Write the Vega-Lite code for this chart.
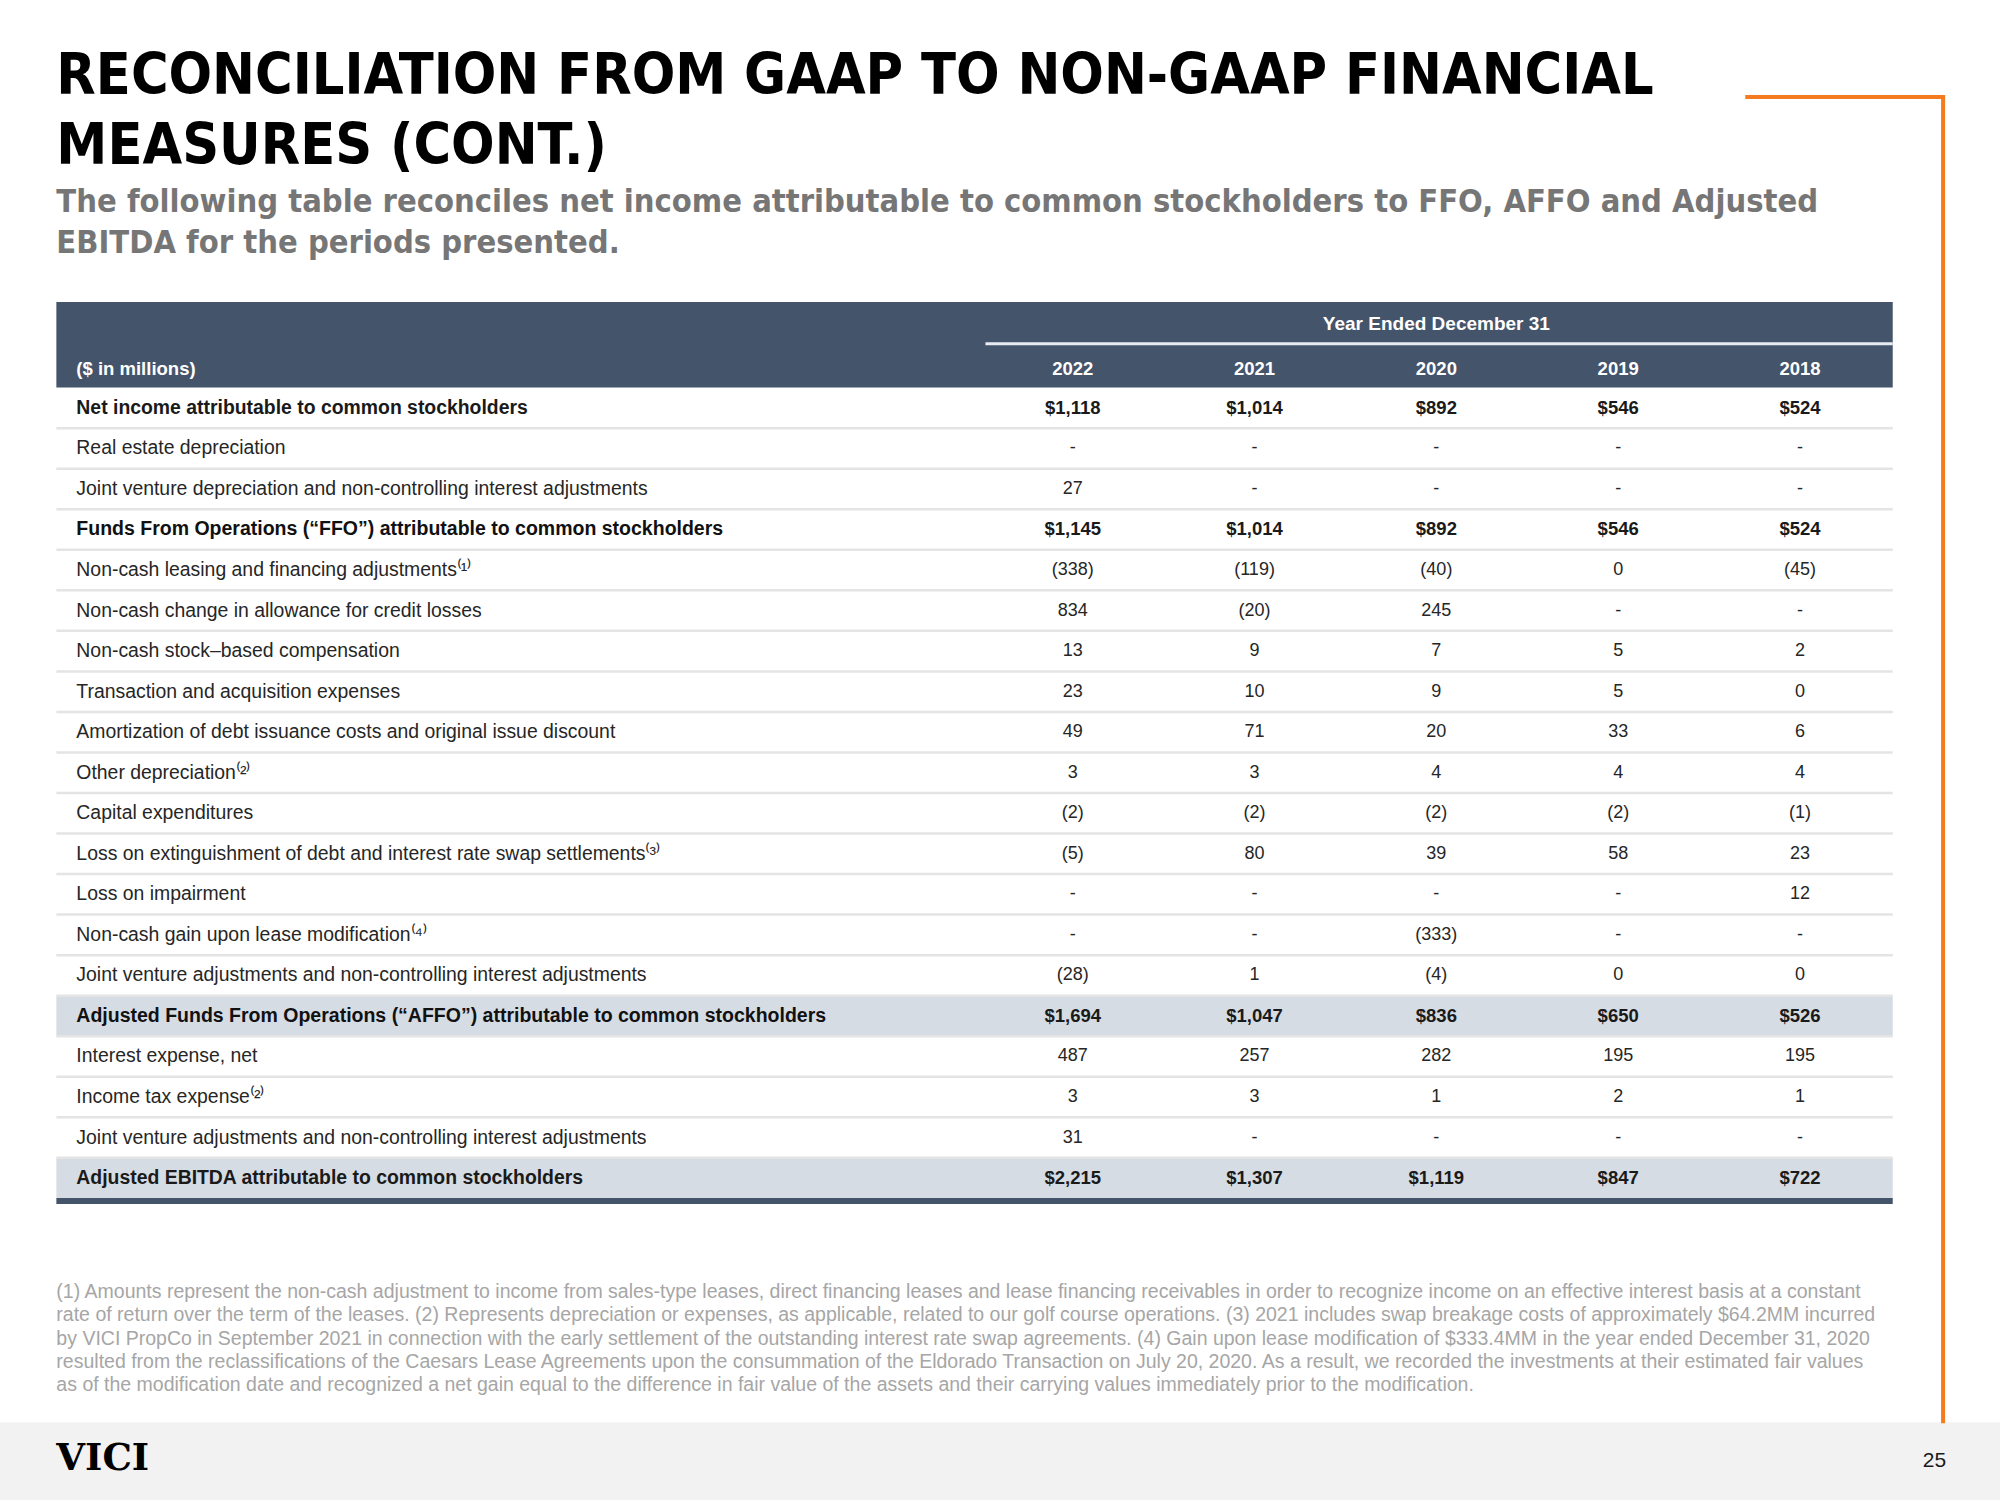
{
  "$schema": "https://vega.github.io/schema/vega-lite/v6.json",
  "width": 2000,
  "height": 1500,
  "autosize": {"type": "fit", "contains": "padding"},
  "padding": 0,
  "background": "white",
  "config": {"view": {"stroke": null}},
  "datasets": {
    "rows": [
      {"row": 0, "label": "Net income attributable to common stockholders", "kind": "total"},
      {"row": 1, "label": "Real estate depreciation", "kind": "item"},
      {"row": 2, "label": "Joint venture depreciation and non-controlling interest adjustments", "kind": "item"},
      {"row": 3, "label": "Funds From Operations (“FFO”) attributable to common stockholders", "kind": "subtotal"},
      {"row": 4, "label": "Non-cash leasing and financing adjustments⁽¹⁾", "kind": "item"},
      {"row": 5, "label": "Non-cash change in allowance for credit losses", "kind": "item"},
      {"row": 6, "label": "Non-cash stock–based compensation", "kind": "item"},
      {"row": 7, "label": "Transaction and acquisition expenses", "kind": "item"},
      {"row": 8, "label": "Amortization of debt issuance costs and original issue discount", "kind": "item"},
      {"row": 9, "label": "Other depreciation⁽²⁾", "kind": "item"},
      {"row": 10, "label": "Capital expenditures", "kind": "item"},
      {"row": 11, "label": "Loss on extinguishment of debt and interest rate swap settlements⁽³⁾", "kind": "item"},
      {"row": 12, "label": "Loss on impairment", "kind": "item"},
      {"row": 13, "label": "Non-cash gain upon lease modification⁽⁴⁾", "kind": "item"},
      {"row": 14, "label": "Joint venture adjustments and non-controlling interest adjustments", "kind": "item"},
      {"row": 15, "label": "Adjusted Funds From Operations (“AFFO”) attributable to common stockholders", "kind": "subtotal"},
      {"row": 16, "label": "Interest expense, net", "kind": "item"},
      {"row": 17, "label": "Income tax expense⁽²⁾", "kind": "item"},
      {"row": 18, "label": "Joint venture adjustments and non-controlling interest adjustments", "kind": "item"},
      {"row": 19, "label": "Adjusted EBITDA attributable to common stockholders", "kind": "total"}
    ],
    "cells": [
      {"row": 0, "year": 2022, "value": 1118}, {"row": 0, "year": 2021, "value": 1014}, {"row": 0, "year": 2020, "value": 892}, {"row": 0, "year": 2019, "value": 546}, {"row": 0, "year": 2018, "value": 524},
      {"row": 1, "year": 2022, "value": null}, {"row": 1, "year": 2021, "value": null}, {"row": 1, "year": 2020, "value": null}, {"row": 1, "year": 2019, "value": null}, {"row": 1, "year": 2018, "value": null},
      {"row": 2, "year": 2022, "value": 27}, {"row": 2, "year": 2021, "value": null}, {"row": 2, "year": 2020, "value": null}, {"row": 2, "year": 2019, "value": null}, {"row": 2, "year": 2018, "value": null},
      {"row": 3, "year": 2022, "value": 1145}, {"row": 3, "year": 2021, "value": 1014}, {"row": 3, "year": 2020, "value": 892}, {"row": 3, "year": 2019, "value": 546}, {"row": 3, "year": 2018, "value": 524},
      {"row": 4, "year": 2022, "value": -338}, {"row": 4, "year": 2021, "value": -119}, {"row": 4, "year": 2020, "value": -40}, {"row": 4, "year": 2019, "value": 0}, {"row": 4, "year": 2018, "value": -45},
      {"row": 5, "year": 2022, "value": 834}, {"row": 5, "year": 2021, "value": -20}, {"row": 5, "year": 2020, "value": 245}, {"row": 5, "year": 2019, "value": null}, {"row": 5, "year": 2018, "value": null},
      {"row": 6, "year": 2022, "value": 13}, {"row": 6, "year": 2021, "value": 9}, {"row": 6, "year": 2020, "value": 7}, {"row": 6, "year": 2019, "value": 5}, {"row": 6, "year": 2018, "value": 2},
      {"row": 7, "year": 2022, "value": 23}, {"row": 7, "year": 2021, "value": 10}, {"row": 7, "year": 2020, "value": 9}, {"row": 7, "year": 2019, "value": 5}, {"row": 7, "year": 2018, "value": 0},
      {"row": 8, "year": 2022, "value": 49}, {"row": 8, "year": 2021, "value": 71}, {"row": 8, "year": 2020, "value": 20}, {"row": 8, "year": 2019, "value": 33}, {"row": 8, "year": 2018, "value": 6},
      {"row": 9, "year": 2022, "value": 3}, {"row": 9, "year": 2021, "value": 3}, {"row": 9, "year": 2020, "value": 4}, {"row": 9, "year": 2019, "value": 4}, {"row": 9, "year": 2018, "value": 4},
      {"row": 10, "year": 2022, "value": -2}, {"row": 10, "year": 2021, "value": -2}, {"row": 10, "year": 2020, "value": -2}, {"row": 10, "year": 2019, "value": -2}, {"row": 10, "year": 2018, "value": -1},
      {"row": 11, "year": 2022, "value": -5}, {"row": 11, "year": 2021, "value": 80}, {"row": 11, "year": 2020, "value": 39}, {"row": 11, "year": 2019, "value": 58}, {"row": 11, "year": 2018, "value": 23},
      {"row": 12, "year": 2022, "value": null}, {"row": 12, "year": 2021, "value": null}, {"row": 12, "year": 2020, "value": null}, {"row": 12, "year": 2019, "value": null}, {"row": 12, "year": 2018, "value": 12},
      {"row": 13, "year": 2022, "value": null}, {"row": 13, "year": 2021, "value": null}, {"row": 13, "year": 2020, "value": -333}, {"row": 13, "year": 2019, "value": null}, {"row": 13, "year": 2018, "value": null},
      {"row": 14, "year": 2022, "value": -28}, {"row": 14, "year": 2021, "value": 1}, {"row": 14, "year": 2020, "value": -4}, {"row": 14, "year": 2019, "value": 0}, {"row": 14, "year": 2018, "value": 0},
      {"row": 15, "year": 2022, "value": 1694}, {"row": 15, "year": 2021, "value": 1047}, {"row": 15, "year": 2020, "value": 836}, {"row": 15, "year": 2019, "value": 650}, {"row": 15, "year": 2018, "value": 526},
      {"row": 16, "year": 2022, "value": 487}, {"row": 16, "year": 2021, "value": 257}, {"row": 16, "year": 2020, "value": 282}, {"row": 16, "year": 2019, "value": 195}, {"row": 16, "year": 2018, "value": 195},
      {"row": 17, "year": 2022, "value": 3}, {"row": 17, "year": 2021, "value": 3}, {"row": 17, "year": 2020, "value": 1}, {"row": 17, "year": 2019, "value": 2}, {"row": 17, "year": 2018, "value": 1},
      {"row": 18, "year": 2022, "value": 31}, {"row": 18, "year": 2021, "value": null}, {"row": 18, "year": 2020, "value": null}, {"row": 18, "year": 2019, "value": null}, {"row": 18, "year": 2018, "value": null},
      {"row": 19, "year": 2022, "value": 2215}, {"row": 19, "year": 2021, "value": 1307}, {"row": 19, "year": 2020, "value": 1119}, {"row": 19, "year": 2019, "value": 847}, {"row": 19, "year": 2018, "value": 722}
    ]
  },
  "layer": [
    {
      "data": {"values": [{}]},
      "mark": {"type": "rect", "color": "#f2f2f2"},
      "encoding": {
        "x": {"datum": 2027.9, "type": "quantitative", "scale": {"domain": [2016.9, 2027.9], "reverse": true, "nice": false, "zero": false}, "axis": null},
        "x2": {"datum": 2016.9},
        "y": {"datum": 25.02, "type": "quantitative", "scale": {"domain": [-10.06, 26.94], "reverse": true, "nice": false, "zero": false}, "axis": null},
        "y2": {"datum": 26.94}
      }
    },
    {
      "data": {"values": [{}]},
      "mark": {"type": "rect", "color": "#44546a"},
      "encoding": {
        "x": {"datum": 2027.59, "type": "quantitative", "scale": {"domain": [2016.9, 2027.9], "reverse": true, "nice": false, "zero": false}, "axis": null},
        "x2": {"datum": 2017.49},
        "y": {"datum": -2.61, "type": "quantitative", "scale": {"domain": [-10.06, 26.94], "reverse": true, "nice": false, "zero": false}, "axis": null},
        "y2": {"datum": -0.5}
      }
    },
    {
      "data": {"name": "rows"},
      "transform": [{"filter": {"field": "row", "oneOf": [15, 19]}}],
      "mark": {"type": "rule", "color": "#d6dce4", "strokeWidth": 40.5, "strokeCap": "butt"},
      "encoding": {
        "x": {"datum": 2027.59, "type": "quantitative", "scale": {"domain": [2016.9, 2027.9], "reverse": true, "nice": false, "zero": false}, "axis": null},
        "x2": {"datum": 2017.49},
        "y": {"field": "row", "type": "quantitative", "scale": {"domain": [-10.06, 26.94], "reverse": true, "nice": false, "zero": false}, "axis": null}
      }
    },
    {
      "data": {"name": "rows"},
      "transform": [{"filter": "datum.row < 19"}],
      "mark": {"type": "rule", "color": "#e4e4e4", "strokeWidth": 2.5, "yOffset": 20.3},
      "encoding": {
        "x": {"datum": 2027.59, "type": "quantitative", "scale": {"domain": [2016.9, 2027.9], "reverse": true, "nice": false, "zero": false}, "axis": null},
        "x2": {"datum": 2017.49},
        "y": {"field": "row", "type": "quantitative", "scale": {"domain": [-10.06, 26.94], "reverse": true, "nice": false, "zero": false}, "axis": null}
      }
    },
    {
      "data": {"name": "rows"},
      "transform": [{"filter": "datum.row == 19"}],
      "mark": {"type": "rule", "color": "#44546a", "strokeWidth": 6, "yOffset": 23},
      "encoding": {
        "x": {"datum": 2027.59, "type": "quantitative", "scale": {"domain": [2016.9, 2027.9], "reverse": true, "nice": false, "zero": false}, "axis": null},
        "x2": {"datum": 2017.49},
        "y": {"field": "row", "type": "quantitative", "scale": {"domain": [-10.06, 26.94], "reverse": true, "nice": false, "zero": false}, "axis": null}
      }
    },
    {
      "data": {"values": [{}]},
      "mark": {"type": "rule", "color": "#e8ecf2", "strokeWidth": 3},
      "encoding": {
        "x": {"datum": 2022.48, "type": "quantitative", "scale": {"domain": [2016.9, 2027.9], "reverse": true, "nice": false, "zero": false}, "axis": null},
        "x2": {"datum": 2017.49},
        "y": {"datum": -1.58, "type": "quantitative", "scale": {"domain": [-10.06, 26.94], "reverse": true, "nice": false, "zero": false}, "axis": null}
      }
    },
    {
      "data": {"values": [{}]},
      "mark": {"type": "text", "text": "Year Ended December 31", "font": "Liberation Sans", "fontWeight": "bold", "fontSize": 19, "color": "#ffffff", "align": "center", "baseline": "middle"},
      "encoding": {
        "x": {"datum": 2020.0, "type": "quantitative", "scale": {"domain": [2016.9, 2027.9], "reverse": true, "nice": false, "zero": false}, "axis": null},
        "y": {"datum": -2.07, "type": "quantitative", "scale": {"domain": [-10.06, 26.94], "reverse": true, "nice": false, "zero": false}, "axis": null}
      }
    },
    {
      "data": {"values": [{}]},
      "mark": {"type": "text", "text": "($ in millions)", "font": "Liberation Sans", "fontWeight": "bold", "fontSize": 18.5, "color": "#ffffff", "align": "left", "baseline": "middle"},
      "encoding": {
        "x": {"datum": 2027.48, "type": "quantitative", "scale": {"domain": [2016.9, 2027.9], "reverse": true, "nice": false, "zero": false}, "axis": null},
        "y": {"datum": -0.97, "type": "quantitative", "scale": {"domain": [-10.06, 26.94], "reverse": true, "nice": false, "zero": false}, "axis": null}
      }
    },
    {
      "data": {"name": "cells"},
      "transform": [{"filter": "datum.row == 0"}],
      "mark": {"type": "text", "font": "Liberation Sans", "fontWeight": "bold", "fontSize": 18.5, "color": "#ffffff", "align": "center", "baseline": "middle"},
      "encoding": {
        "x": {"field": "year", "type": "quantitative", "scale": {"domain": [2016.9, 2027.9], "reverse": true, "nice": false, "zero": false}, "axis": null},
        "y": {"datum": -0.97, "type": "quantitative", "scale": {"domain": [-10.06, 26.94], "reverse": true, "nice": false, "zero": false}, "axis": null},
        "text": {"field": "year", "type": "quantitative", "format": "d"}
      }
    },
    {
      "data": {"name": "rows"},
      "transform": [{"filter": "datum.kind == 'item'"}],
      "mark": {"type": "text", "font": "Liberation Sans", "fontSize": 19.4, "color": "#262626", "align": "left", "baseline": "middle"},
      "encoding": {
        "x": {"datum": 2027.48, "type": "quantitative", "scale": {"domain": [2016.9, 2027.9], "reverse": true, "nice": false, "zero": false}, "axis": null},
        "y": {"field": "row", "type": "quantitative", "scale": {"domain": [-10.06, 26.94], "reverse": true, "nice": false, "zero": false}, "axis": null},
        "text": {"field": "label", "type": "nominal"}
      }
    },
    {
      "data": {"name": "rows"},
      "transform": [{"filter": "datum.kind == 'total'"}],
      "mark": {"type": "text", "font": "Liberation Sans", "fontWeight": "bold", "fontSize": 19.4, "color": "#1a1a1a", "align": "left", "baseline": "middle"},
      "encoding": {
        "x": {"datum": 2027.48, "type": "quantitative", "scale": {"domain": [2016.9, 2027.9], "reverse": true, "nice": false, "zero": false}, "axis": null},
        "y": {"field": "row", "type": "quantitative", "scale": {"domain": [-10.06, 26.94], "reverse": true, "nice": false, "zero": false}, "axis": null},
        "text": {"field": "label", "type": "nominal"}
      }
    },
    {
      "data": {"name": "rows"},
      "transform": [{"filter": "datum.kind == 'subtotal'"}],
      "mark": {"type": "text", "font": "Liberation Sans", "fontWeight": "bold", "fontSize": 19.5, "color": "#111111", "align": "left", "baseline": "middle"},
      "encoding": {
        "x": {"datum": 2027.48, "type": "quantitative", "scale": {"domain": [2016.9, 2027.9], "reverse": true, "nice": false, "zero": false}, "axis": null},
        "y": {"field": "row", "type": "quantitative", "scale": {"domain": [-10.06, 26.94], "reverse": true, "nice": false, "zero": false}, "axis": null},
        "text": {"field": "label", "type": "nominal"}
      }
    },
    {
      "data": {"name": "cells"},
      "transform": [
        {"lookup": "row", "from": {"data": {"name": "rows"}, "key": "row", "fields": ["kind"]}},
        {"filter": "datum.kind != 'item' && isValid(datum.value)"}
      ],
      "mark": {"type": "text", "font": "Liberation Sans", "fontWeight": "bold", "fontSize": 18.5, "color": "#1a1a1a", "align": "center", "baseline": "middle"},
      "encoding": {
        "x": {"field": "year", "type": "quantitative", "scale": {"domain": [2016.9, 2027.9], "reverse": true, "nice": false, "zero": false}, "axis": null},
        "y": {"field": "row", "type": "quantitative", "scale": {"domain": [-10.06, 26.94], "reverse": true, "nice": false, "zero": false}, "axis": null},
        "text": {"field": "value", "type": "quantitative", "format": "$,d"}
      }
    },
    {
      "data": {"name": "cells"},
      "transform": [
        {"lookup": "row", "from": {"data": {"name": "rows"}, "key": "row", "fields": ["kind"]}},
        {"filter": "datum.kind == 'item' && isValid(datum.value)"}
      ],
      "mark": {"type": "text", "font": "Liberation Sans", "fontSize": 18, "color": "#262626", "align": "center", "baseline": "middle"},
      "encoding": {
        "x": {"field": "year", "type": "quantitative", "scale": {"domain": [2016.9, 2027.9], "reverse": true, "nice": false, "zero": false}, "axis": null},
        "y": {"field": "row", "type": "quantitative", "scale": {"domain": [-10.06, 26.94], "reverse": true, "nice": false, "zero": false}, "axis": null},
        "text": {"field": "value", "type": "quantitative", "format": "(,d"}
      }
    },
    {
      "data": {"name": "cells"},
      "transform": [{"filter": "!isValid(datum.value)"}],
      "mark": {"type": "text", "text": "-", "font": "Liberation Sans", "fontSize": 18, "color": "#262626", "align": "center", "baseline": "middle"},
      "encoding": {
        "x": {"field": "year", "type": "quantitative", "scale": {"domain": [2016.9, 2027.9], "reverse": true, "nice": false, "zero": false}, "axis": null},
        "y": {"field": "row", "type": "quantitative", "scale": {"domain": [-10.06, 26.94], "reverse": true, "nice": false, "zero": false}, "axis": null}
      }
    },
    {
      "data": {"values": [{}]},
      "mark": {"type": "text", "text": ["RECONCILIATION FROM GAAP TO NON-GAAP FINANCIAL", "MEASURES (CONT.)"], "font": "DejaVu Sans Condensed, Liberation Sans", "fontWeight": "bold", "fontSize": 57, "lineHeight": 70, "color": "#000000", "align": "left", "baseline": "alphabetic"},
      "encoding": {
        "x": {"datum": 2027.59, "type": "quantitative", "scale": {"domain": [2016.9, 2027.9], "reverse": true, "nice": false, "zero": false}, "axis": null},
        "y": {"datum": -7.73, "type": "quantitative", "scale": {"domain": [-10.06, 26.94], "reverse": true, "nice": false, "zero": false}, "axis": null}
      }
    },
    {
      "data": {"values": [{}]},
      "mark": {"type": "text", "text": ["The following table reconciles net income attributable to common stockholders to FFO, AFFO and Adjusted", "EBITDA for the periods presented."], "font": "DejaVu Sans Condensed, Liberation Sans", "fontWeight": "bold", "fontSize": 32.4, "lineHeight": 41, "color": "#767676", "align": "left", "baseline": "alphabetic"},
      "encoding": {
        "x": {"datum": 2027.59, "type": "quantitative", "scale": {"domain": [2016.9, 2027.9], "reverse": true, "nice": false, "zero": false}, "axis": null},
        "y": {"datum": -4.84, "type": "quantitative", "scale": {"domain": [-10.06, 26.94], "reverse": true, "nice": false, "zero": false}, "axis": null}
      }
    },
    {
      "data": {"values": [{}]},
      "mark": {"type": "text", "text": [
        "(1) Amounts represent the non-cash adjustment to income from sales-type leases, direct financing leases and lease financing receivables in order to recognize income on an effective interest basis at a constant",
        "rate of return over the term of the leases. (2) Represents depreciation or expenses, as applicable, related to our golf course operations. (3) 2021 includes swap breakage costs of approximately $64.2MM incurred",
        "by VICI PropCo in September 2021 in connection with the early settlement of the outstanding interest rate swap agreements. (4) Gain upon lease modification of $333.4MM in the year ended December 31, 2020",
        "resulted from the reclassifications of the Caesars Lease Agreements upon the consummation of the Eldorado Transaction on July 20, 2020. As a result, we recorded the investments at their estimated fair values",
        "as of the modification date and recognized a net gain equal to the difference in fair value of the assets and their carrying values immediately prior to the modification."
      ], "font": "Liberation Sans", "fontSize": 19.5, "lineHeight": 23.3, "color": "#a6a6a6", "align": "left", "baseline": "alphabetic"},
      "encoding": {
        "x": {"datum": 2027.59, "type": "quantitative", "scale": {"domain": [2016.9, 2027.9], "reverse": true, "nice": false, "zero": false}, "axis": null},
        "y": {"datum": 21.96, "type": "quantitative", "scale": {"domain": [-10.06, 26.94], "reverse": true, "nice": false, "zero": false}, "axis": null}
      }
    },
    {
      "data": {"values": [{}]},
      "mark": {"type": "text", "text": "VICI", "font": "DejaVu Serif", "fontWeight": "bold", "fontSize": 37, "color": "#000000", "align": "left", "baseline": "middle"},
      "encoding": {
        "x": {"datum": 2027.59, "type": "quantitative", "scale": {"domain": [2016.9, 2027.9], "reverse": true, "nice": false, "zero": false}, "axis": null},
        "y": {"datum": 25.93, "type": "quantitative", "scale": {"domain": [-10.06, 26.94], "reverse": true, "nice": false, "zero": false}, "axis": null}
      }
    },
    {
      "data": {"values": [{}]},
      "mark": {"type": "text", "text": "25", "font": "Liberation Sans", "fontSize": 21, "color": "#1a1a1a", "align": "center", "baseline": "middle"},
      "encoding": {
        "x": {"datum": 2017.26, "type": "quantitative", "scale": {"domain": [2016.9, 2027.9], "reverse": true, "nice": false, "zero": false}, "axis": null},
        "y": {"datum": 25.97, "type": "quantitative", "scale": {"domain": [-10.06, 26.94], "reverse": true, "nice": false, "zero": false}, "axis": null}
      }
    },
    {
      "data": {"values": [{}]},
      "mark": {"type": "rule", "color": "#f47b20", "strokeWidth": 4, "strokeCap": "square"},
      "encoding": {
        "x": {"datum": 2018.29, "type": "quantitative", "scale": {"domain": [2016.9, 2027.9], "reverse": true, "nice": false, "zero": false}, "axis": null},
        "x2": {"datum": 2017.213},
        "y": {"datum": -7.667, "type": "quantitative", "scale": {"domain": [-10.06, 26.94], "reverse": true, "nice": false, "zero": false}, "axis": null}
      }
    },
    {
      "data": {"values": [{}]},
      "mark": {"type": "rule", "color": "#f47b20", "strokeWidth": 4, "strokeCap": "square"},
      "encoding": {
        "x": {"datum": 2017.213, "type": "quantitative", "scale": {"domain": [2016.9, 2027.9], "reverse": true, "nice": false, "zero": false}, "axis": null},
        "y": {"datum": -7.667, "type": "quantitative", "scale": {"domain": [-10.06, 26.94], "reverse": true, "nice": false, "zero": false}, "axis": null},
        "y2": {"datum": 25.0}
      }
    }
  ]
}
